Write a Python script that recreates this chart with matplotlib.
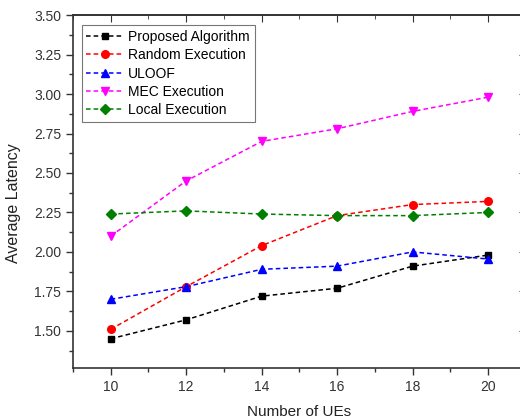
import matplotlib
matplotlib.use('Agg')
import matplotlib.pyplot as plt
from matplotlib.ticker import MultipleLocator

plt.rcParams['font.family'] = ['Liberation Sans', 'DejaVu Sans']

ues = [10, 12, 14, 16, 18, 20]
proposed = [1.45, 1.57, 1.72, 1.77, 1.91, 1.98]
random_exec = [1.51, 1.78, 2.04, 2.23, 2.30, 2.32]
uloof = [1.70, 1.78, 1.89, 1.91, 2.00, 1.955]
mec_exec = [2.10, 2.45, 2.70, 2.78, 2.89, 2.98]
local_exec = [2.24, 2.26, 2.24, 2.23, 2.23, 2.25]

names = ['Proposed Algorithm', 'Random Execution', 'ULOOF', 'MEC Execution', 'Local Execution']
colors = ['black', 'red', 'blue', 'magenta', 'green']
markers = ['s', 'o', '^', 'v', 'D']
msizes = [4.8, 5.5, 6, 6, 4.8]
series = [proposed, random_exec, uloof, mec_exec, local_exec]

fig = plt.figure(figsize=(5.2, 4.19), dpi=100)
ax = fig.add_axes([0.1404, 0.121, 0.8707, 0.843])

for vals, name, c, m, ms in zip(series, names, colors, markers, msizes):
    ax.plot(ues, vals, linestyle=(0, (3, 2)), color=c, marker=m, markersize=ms,
            linewidth=1.1, label=name)

ax.set_xlim(9, 21)
ax.set_ylim(1.263, 3.5)
ax.set_xticks(ues)
ax.xaxis.set_minor_locator(MultipleLocator(1))
yt = [1.50, 1.75, 2.00, 2.25, 2.50, 2.75, 3.00, 3.25, 3.50]
ax.set_yticks(yt)
ax.set_yticklabels(['%.2f' % v for v in yt])
ax.yaxis.set_minor_locator(MultipleLocator(0.125))

ax.tick_params(which='both', direction='out', labelsize=10, colors='#333333')
ax.tick_params(which='major', length=5, width=1)
ax.tick_params(which='minor', length=3, width=1)

# inward ticks on the top and right edges
top = ax.secondary_xaxis('top')
top.set_xticks(ues)
top.xaxis.set_minor_locator(MultipleLocator(1))
top.tick_params(which='both', direction='in', labeltop=False, colors='#333333')
top.tick_params(which='major', length=5)
top.tick_params(which='minor', length=3)
right = ax.secondary_yaxis('right')
right.set_yticks(yt)
right.tick_params(direction='in', labelright=False, length=5, colors='#333333')

for s in list(ax.spines.values()) + list(top.spines.values()) + list(right.spines.values()):
    s.set_color('#333333')
    s.set_linewidth(1.2)

ax.set_xlabel('Number of UEs', fontsize=11, color='#222222', labelpad=8)
ax.set_ylabel('Average Latency', fontsize=11.5, color='#222222')
ax.yaxis.set_label_coords(-0.115, 0.468)

leg = ax.legend(loc='upper left', fontsize=10, frameon=True, fancybox=False,
                edgecolor='#555555', handlelength=2.7, handletextpad=0.3,
                labelspacing=0.3, borderpad=0.35, borderaxespad=0,
                bbox_to_anchor=(0.019, 0.971))
leg.get_frame().set_linewidth(0.8)

fig.savefig('out.png', dpi=100)
